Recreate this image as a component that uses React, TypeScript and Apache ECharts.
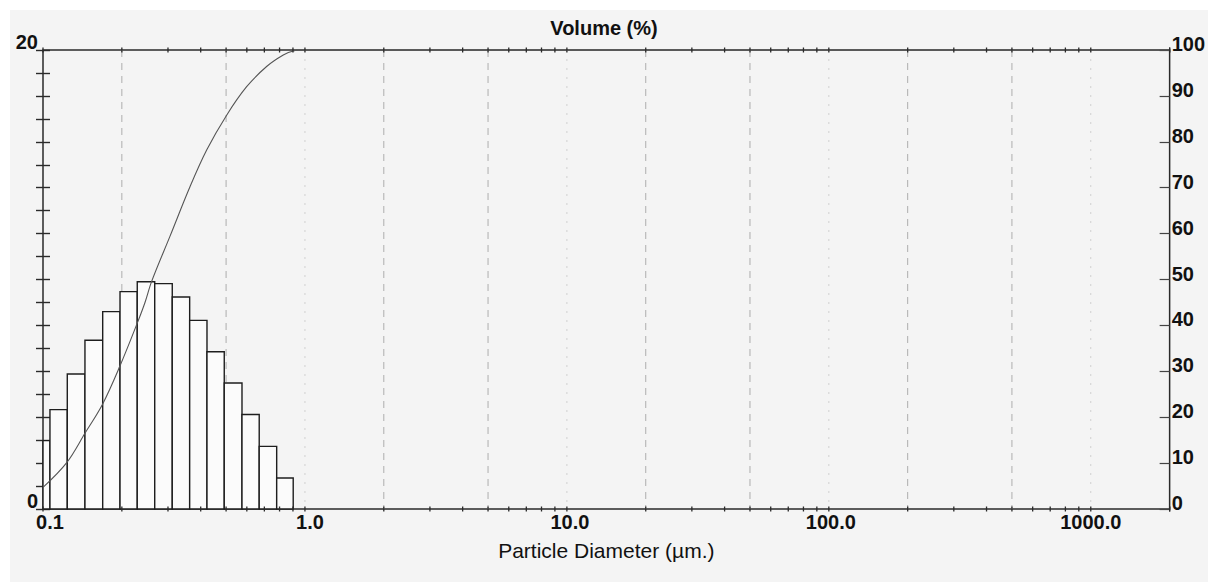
import React, { useEffect, useRef } from "react";
import * as echarts from "echarts";

// Histogram bin edges (µm) (log-spaced channels)
const binEdges = [
  0.0912, 0.1063, 0.1238, 0.1446, 0.169, 0.1968, 0.229, 0.267, 0.3115,
  0.363, 0.4227, 0.492, 0.575, 0.669, 0.78, 0.902,
];
// Volume in each bin (%), left axis 0–20
const binValues = [
  2.98, 4.33, 5.88, 7.35, 8.6, 9.47, 9.9, 9.82, 9.24, 8.22, 6.85, 5.49, 4.12,
  2.73, 1.35,
];
// Cumulative volume (%) — right axis 0–100
const cumX = [
  0.1, 0.1232, 0.1446, 0.169, 0.1968, 0.229, 0.2451, 0.2599, 0.3052, 0.364,
  0.4215, 0.5024, 0.599, 0.714, 0.8265, 0.902, 1.0, 2000,
];
const cumY = [
  4.7, 10.1, 16.5, 22.9, 31.2, 40.5, 45.0, 49.6, 59.4, 70.2, 78.2, 85.8, 92.0,
  96.4, 98.9, 99.8, 100, 100,
];
// Axis labels & guide positions
const xTickLabels = [0.1, 1, 10, 100, 1000];
const xLabelShift = [7, 5, 3, 2, 0];
const gridDashed = [0.2, 0.5, 2, 5, 20, 50, 200, 500];
const gridDotted = [1, 10, 100, 1000];
const decades = [0.1, 1, 10, 100, 1000];
const multiples = [1, 2, 3, 4, 5, 6, 7, 8, 9];
const leftLabels = [0, 20];

const FONT = '"Liberation Sans", Arial, Helvetica, sans-serif';

export default function App() {
  const ref = useRef<HTMLDivElement>(null);

  useEffect(() => {
    const chart = echarts.init(ref.current!, null, { renderer: "svg" });

    const minorTicks: number[] = [];
    decades.forEach((d) =>
      multiples.forEach((m) => {
        const v = +(d * m).toPrecision(6);
        if (v <= 2000) minorTicks.push(v);
      })
    );
    minorTicks.push(2000);

    const bars = binValues.map((v, i) => [binEdges[i], binEdges[i + 1], v]);
    const cum = cumX.map((x, i) => [x, cumY[i]]);

    const rich: Record<string, any> = {};
    xLabelShift.forEach((s, i) => {
      rich["l" + i] = {
        fontSize: 20,
        fontWeight: "bold",
        fontFamily: FONT,
        color: "#111",
        padding: [0, 0, 0, s * 2],
      };
    });

    const vLine = (dash: number[], color: string) => (params: any, api: any) => {
      const cs = params.coordSys;
      const x = api.coord([api.value(0), 1])[0];
      return {
        type: "line",
        silent: true,
        shape: { x1: x, y1: cs.y, x2: x, y2: cs.y + cs.height },
        style: { stroke: color, lineWidth: 1, lineDash: dash },
      };
    };

    chart.setOption({
      animation: false,
      title: {
        text: "Volume (%)",
        left: "center",
        top: 18,
        padding: 0,
        textStyle: {
          fontFamily: FONT,
          fontSize: 20,
          fontWeight: "bold",
          color: "#111",
        },
      },
      grid: {
        left: 43,
        right: 38,
        top: 50,
        bottom: 73,
        show: true,
        borderColor: "#2a2a2a",
        borderWidth: 1.5,
        backgroundColor: "transparent",
      },
      xAxis: {
        type: "log",
        logBase: 10,
        min: 0.1,
        max: 2000,
        axisLine: { show: false },
        axisTick: { show: false },
        splitLine: { show: false },
        axisLabel: {
          margin: 3,
          fontSize: 20,
          fontWeight: "bold",
          fontFamily: FONT,
          color: "#111",
          showMaxLabel: false,
          rich,
          formatter: (v: number) => {
            const idx = xTickLabels.findIndex(
              (t) => Math.abs(Math.log10(v) - Math.log10(t)) < 1e-6
            );
            if (idx < 0) return "";
            return `{l${idx}|${xTickLabels[idx].toFixed(1)}}`;
          },
        },
        name: "Particle Diameter (µm.)",
        nameLocation: "middle",
        nameGap: 31,
        nameTextStyle: {
          fontFamily: FONT,
          fontSize: 21,
          color: "#111",
        },
      },
      yAxis: [
        {
          type: "value",
          min: 0,
          max: 20,
          interval: 1,
          position: "left",
          axisLine: { show: false },
          axisTick: { show: true, length: 7, lineStyle: { color: "#2a2a2a", width: 1.4 } },
          splitLine: { show: false },
          axisLabel: {
            margin: 5,
            fontSize: 20,
            fontWeight: "bold",
            fontFamily: FONT,
            color: "#111",
            verticalAlign: "bottom",
            lineHeight: 16,
            formatter: (v: number) => (leftLabels.includes(v) ? String(v) : ""),
          },
        },
        {
          type: "value",
          min: 0,
          max: 100,
          interval: 10,
          position: "right",
          axisLine: { show: false },
          axisTick: { show: true, inside: true, length: 10, lineStyle: { color: "#444", width: 1.2 } },
          splitLine: { show: false },
          axisLabel: {
            margin: 2,
            fontSize: 20,
            fontWeight: "bold",
            fontFamily: FONT,
            color: "#111",
            verticalAlign: "bottom",
            lineHeight: 12,
          },
        },
        {
          type: "value",
          min: 0,
          max: 20,
          interval: 1,
          position: "left",
          axisLine: { show: false },
          axisTick: { show: true, inside: true, length: 7, lineStyle: { color: "#2a2a2a", width: 1.4 } },
          splitLine: { show: false },
          axisLabel: { show: false },
        },
      ],
      series: [
        {
          type: "custom",
          name: "grid-dashed",
          xAxisIndex: 0,
          yAxisIndex: 0,
          silent: true,
          z: 1,
          data: gridDashed.map((v) => [v, 1]),
          renderItem: vLine([7, 6], "#adadad"),
        },
        {
          type: "custom",
          name: "grid-dotted",
          xAxisIndex: 0,
          yAxisIndex: 0,
          silent: true,
          z: 1,
          data: gridDotted.map((v) => [v, 1]),
          renderItem: vLine([2, 7], "#d0d0d0"),
        },
        {
          type: "custom",
          name: "Volume",
          xAxisIndex: 0,
          yAxisIndex: 0,
          z: 2,
          encode: { x: [0, 1], y: 2 },
          data: bars,
          renderItem: (params: any, api: any) => {
            const cs = params.coordSys;
            const p0 = api.coord([api.value(0), 0]);
            const p1 = api.coord([api.value(1), api.value(2)]);
            const x0 = Math.max(p0[0], cs.x);
            return {
              type: "rect",
              shape: { x: x0, y: p1[1], width: p1[0] - x0, height: p0[1] - p1[1] },
              style: { fill: "#fbfbfb", stroke: "#1e1e1e", lineWidth: 1.4 },
            };
          },
        },
        {
          type: "line",
          name: "Cumulative",
          xAxisIndex: 0,
          yAxisIndex: 1,
          z: 3,
          data: cum,
          showSymbol: false,
          smooth: 0.35,
          lineStyle: { color: "#555", width: 1.1 },
        },
        {
          type: "custom",
          name: "x-ticks",
          xAxisIndex: 0,
          yAxisIndex: 0,
          silent: true,
          z: 4,
          data: minorTicks.map((v) => [v, 1]),
          renderItem: (params: any, api: any) => {
            const cs = params.coordSys;
            const x = api.coord([api.value(0), 1])[0];
            const st = { stroke: "#2a2a2a", lineWidth: 1.3 };
            return {
              type: "group",
              children: [
                { type: "line", shape: { x1: x, y1: cs.y - 2.5, x2: x, y2: cs.y + 2.5 }, style: st },
                {
                  type: "line",
                  shape: { x1: x, y1: cs.y + cs.height - 2.5, x2: x, y2: cs.y + cs.height + 2.5 },
                  style: st,
                },
              ],
            };
          },
        },
      ],
    });

    return () => chart.dispose();
  }, []);

  return (
    <div
      style={{
        position: "fixed",
        left: 0,
        top: 0,
        width: 1208,
        height: 582,
        background: "#ffffff",
      }}
    >
      <div
        style={{
          position: "absolute",
          left: 10,
          top: 10,
          right: 0,
          bottom: 0,
          background: "#f4f4f4",
        }}
      />
      <div
        ref={ref}
        style={{ position: "absolute", left: 0, top: 0, width: 1208, height: 582 }}
      />
    </div>
  );
}
